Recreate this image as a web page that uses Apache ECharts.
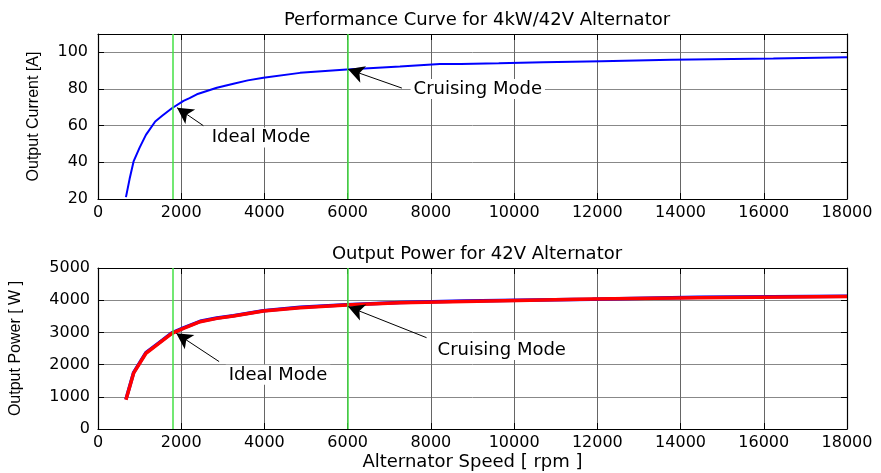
<!DOCTYPE html>
<html>
<head>
<meta charset="utf-8">
<script src="https://cdn.jsdelivr.net/npm/echarts@6/dist/echarts.min.js"></script>
<style>
  html, body { margin: 0; padding: 0; background: #fff; }
  #main { width: 881px; height: 473px; }
</style>
</head>
<body>
<div id="main"></div>
<script>
// top plot: output current vs speed
var speedI = [672, 760, 855, 1000, 1152, 1375, 1550, 1776, 2055, 2200, 2376, 2856, 3255, 3600, 3975, 4856, 5976, 7256, 8216, 8720, 8740, 9630, 9650, 10700, 10720, 12100, 12120, 13780, 13800, 16230, 16250, 18000];
var current = [21, 31, 40.5, 48, 55, 62.3, 65.5, 69.5, 73.5, 75, 77.1, 80.7, 82.9, 84.7, 86.1, 88.8, 90.6, 92.3, 93.7, 93.7, 94.05, 94.1, 94.6, 94.6, 95.1, 95.2, 95.9, 95.9, 96.6, 96.6, 97.3, 97.3];

// bottom plot: output power vs speed (blue + red traces)
var speedP = [672, 855, 1152, 1416, 1776, 2055, 2455, 2856, 3255, 3975, 4856, 5976, 7256, 8800, 8830, 10080, 10110, 11880, 11910, 14420, 14450, 18000];
var powerRed = [907, 1733, 2353, 2610, 2972, 3127, 3331, 3436, 3508, 3662, 3765, 3848, 3920, 3963, 3994, 3994, 4034, 4034, 4074, 4074, 4118, 4118];
var powerBlue = [920, 1750, 2370, 2630, 2985, 3140, 3345, 3450, 3520, 3675, 3778, 3860, 3932, 3975, 4000, 4000, 4030, 4030, 4090, 4090, 4125, 4125];

// green marker speeds
var modeSpeeds = [1800, 6000];

// annotations: text, text position, arrow tail, arrow tip (data coords)
var notesTop = [
  { text: 'Ideal Mode', at: [3920, 53.5], from: [2532, 60], to: [1900, 69.8] },
  { text: 'Cruising Mode', at: [9127, 80], from: [7303, 80.5], to: [6010, 90.8] }
];
var notesBottom = [
  { text: 'Ideal Mode', at: [4327, 1681], from: [2911, 2093], to: [1880, 2972] },
  { text: 'Cruising Mode', at: [9703, 2455], from: [7896, 2836], to: [6014, 3800] }
];

var titles = ['Performance Curve for 4kW/42V Alternator', 'Output Power for 42V Alternator'];

function pairs(xs, ys) {
  var out = [];
  for (var i = 0; i < xs.length; i++) out.push([xs[i], ys[i]]);
  return out;
}

var font = 'DejaVu Sans';
var gridLeft = 98, gridRight = 34;

function plain(v) { return String(v); }

function arrowLines(notes) {
  return notes.map(function(n) {
    return [{ coord: n.from }, { coord: n.to }];
  });
}
function notePoints(notes) {
  return notes.map(function(n) {
    return { coord: n.at, value: n.text };
  });
}

function mainX(gi, labelMargin, name) {
  return {
    type: 'value', gridIndex: gi, min: 0, max: 18000, interval: 2000,
    position: 'bottom',
    name: name || '', nameLocation: 'middle', nameGap: 24,
    nameTextStyle: { color: '#000', fontFamily: font, fontSize: 18 },
    axisLine: { show: true, onZero: false, lineStyle: { color: '#000', width: 1.2 } },
    axisTick: { show: true, inside: true, length: 6, lineStyle: { color: '#000' } },
    axisLabel: { color: '#000', fontFamily: font, fontSize: 16, margin: labelMargin, formatter: plain },
    splitLine: { show: true, lineStyle: { color: '#666', width: 1 } }
  };
}
function boxX(gi) {
  return {
    type: 'value', gridIndex: gi, min: 0, max: 18000, interval: 2000,
    position: 'top',
    axisLine: { show: true, onZero: false, lineStyle: { color: '#000', width: 1.2 } },
    axisTick: { show: true, inside: true, length: 6, lineStyle: { color: '#000' } },
    axisLabel: { show: false },
    splitLine: { show: false }
  };
}
function mainY(gi, min, max, interval, name, nameGap, margin) {
  return {
    type: 'value', gridIndex: gi, min: min, max: max, interval: interval,
    position: 'left',
    name: name, nameLocation: 'middle', nameGap: nameGap, nameRotate: 90,
    nameTextStyle: { color: '#000', fontFamily: 'Liberation Sans', fontSize: 16 },
    axisLine: { show: true, onZero: false, lineStyle: { color: '#000', width: 1.2 } },
    axisTick: { show: true, inside: true, length: 6, lineStyle: { color: '#000' } },
    axisLabel: {
      color: '#000', fontFamily: font, fontSize: 16, margin: margin,
      formatter: function(v) { return (v - min) % interval === 0 ? String(v) : ''; }
    },
    splitLine: { show: true, lineStyle: { color: '#888', width: 1 } }
  };
}
function boxY(gi, min, max, interval) {
  return {
    type: 'value', gridIndex: gi, min: min, max: max, interval: interval,
    position: 'right',
    axisLine: { show: true, onZero: false, lineStyle: { color: '#000', width: 1.2 } },
    axisTick: { show: true, inside: true, length: 6, lineStyle: { color: '#000' } },
    axisLabel: { show: false },
    splitLine: { show: false }
  };
}

var arrowStyle = {
  symbol: ['none', 'arrow'],
  symbolSize: [13, 16],
  silent: true,
  label: { show: false },
  lineStyle: { color: '#000', width: 1, type: 'solid' },
  itemStyle: { color: '#000' }
};
function noteMark(notes) {
  return {
    symbol: 'circle', symbolSize: 0, silent: true,
    label: {
      show: true, position: 'inside', color: '#000', fontFamily: font, fontSize: 18,
      backgroundColor: '#fff', padding: [1, 3],
      formatter: function(p) { return p.value; }
    },
    data: notePoints(notes)
  };
}
function greenLines() {
  return {
    symbol: ['none', 'none'], silent: true,
    label: { show: false },
    lineStyle: { color: '#44e044', width: 1.5, type: 'solid' },
    data: modeSpeeds.map(function(s) { return { xAxis: s }; })
  };
}

var myChart = echarts.init(document.getElementById('main'));
var option = {
  backgroundColor: '#fff',
  animation: false,
  title: [
    { text: titles[0], left: 472, top: 6, textAlign: 'center',
      textStyle: { color: '#000', fontFamily: font, fontSize: 18, fontWeight: 'normal' } },
    { text: titles[1], left: 472, top: 240, textAlign: 'center',
      textStyle: { color: '#000', fontFamily: font, fontSize: 18, fontWeight: 'normal' } }
  ],
  grid: [
    { left: gridLeft, right: gridRight, top: 34, height: 165 },
    { left: gridLeft, right: gridRight, top: 268, height: 161 }
  ],
  xAxis: [
    mainX(0, 6),
    boxX(0),
    mainX(1, 6, 'Alternator Speed [ rpm ]'),
    boxX(1)
  ],
  yAxis: [
    mainY(0, 20, 110, 20, 'Output Current [A]', 56, 10),
    boxY(0, 20, 110, 20),
    mainY(1, 0, 5000, 1000, 'Output Power [ W ]', 74, 8),
    boxY(1, 0, 5000, 1000)
  ],
  series: [
    {
      type: 'line', xAxisIndex: 0, yAxisIndex: 0, z: 3,
      data: pairs(speedI, current),
      showSymbol: false, symbol: 'none',
      lineStyle: { color: '#0000ff', width: 2 },
      markLine: greenLines()
    },
    {
      type: 'line', xAxisIndex: 0, yAxisIndex: 0, z: 4,
      data: [], symbol: 'none',
      markLine: Object.assign({ data: arrowLines(notesTop) }, arrowStyle),
      markPoint: noteMark(notesTop)
    },
    {
      type: 'line', xAxisIndex: 2, yAxisIndex: 2, z: 3,
      data: pairs(speedP, powerBlue),
      showSymbol: false, symbol: 'none',
      lineStyle: { color: '#0000ff', width: 3.5 },
      markLine: greenLines()
    },
    {
      type: 'line', xAxisIndex: 2, yAxisIndex: 2, z: 4,
      data: pairs(speedP, powerRed),
      showSymbol: false, symbol: 'none',
      lineStyle: { color: '#ff0000', width: 3.5 }
    },
    {
      type: 'line', xAxisIndex: 2, yAxisIndex: 2, z: 5,
      data: [], symbol: 'none',
      markLine: Object.assign({ data: arrowLines(notesBottom) }, arrowStyle),
      markPoint: noteMark(notesBottom)
    }
  ]
};
myChart.setOption(option);
</script>
</body>
</html>
